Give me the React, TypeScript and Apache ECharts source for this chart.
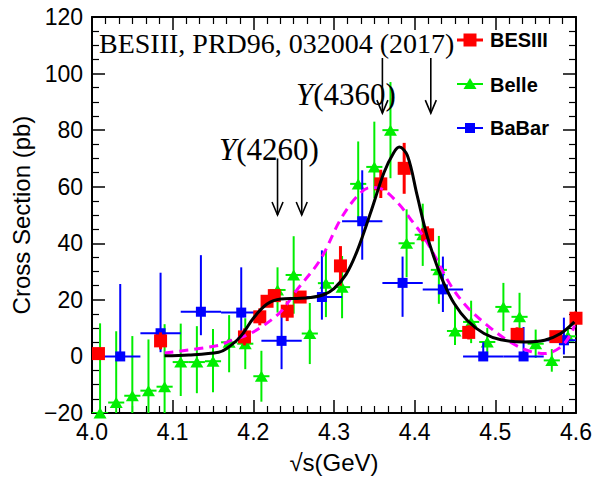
import React, { useEffect, useRef } from "react";
import * as echarts from "echarts";

// ---- BESIII (red squares, vertical errors)
const besX = [4.008, 4.085, 4.189, 4.208, 4.217, 4.226, 4.242, 4.258, 4.308, 4.358, 4.387, 4.416, 4.467, 4.527, 4.575, 4.600];
const besY = [1.0, 5.5, 6.9, 14.0, 19.5, 21.5, 16.0, 21.0, 32.0, 61.0, 66.5, 43.0, 8.5, 7.8, 7.0, 13.5];
const besErr = [2, 3, 3, 3, 2, 1.5, 3.5, 1.5, 7, 5, 9, 3, 2.5, 2.5, 2, 2.5];

// ---- Belle (green triangles)
const belleX = [4.01, 4.03, 4.05, 4.07, 4.09, 4.11, 4.13, 4.15, 4.17, 4.19, 4.21, 4.23, 4.25, 4.27, 4.29, 4.31, 4.33, 4.35, 4.37, 4.39, 4.41, 4.43, 4.45, 4.47, 4.49, 4.51, 4.53, 4.55, 4.57, 4.59];
const belleY = [-20, -16.3, -13.9, -12.1, -10.7, -2, -2, -1.7, 5, 4.5, -7, 23.5, 28.8, 8.1, 25.9, 24.5, 61, 67, 80, 40, 43, 30.6, 9, 12.2, 5.1, 17.5, 14, 4.5, -1.4, 7.1];
const belleUp = [31.7, 25.2, 21.1, 18.1, 22.1, 13.6, 12.7, 11.4, 9.6, 9, 9, 8, 13.7, 10.8, 12, 11, 15, 16, 17, 12, 11, 12, 9, 7.5, 5, 8.5, 8.5, 5, 4, 3];
const belleDown = [10, 10, 10, 10, 10, 12, 11, 11, 10.6, 9, 9, 8, 13.7, 10.8, 12, 11, 13, 11, 17, 12, 11, 12, 5, 7.5, 5, 8.5, 8.5, 5, 4, 3];
const belleHalfW = 0.01;

// ---- BaBar (blue squares)
const babarX = [4.035, 4.085, 4.135, 4.185, 4.235, 4.285, 4.335, 4.385, 4.435, 4.485, 4.535, 4.585];
const babarY = [0, 8.2, 15.8, 15.5, 5.5, 21, 47.8, 26, 23.7, 0, 0, 5.7];
const babarUp = [25.6, 21.4, 20, 16, 9.5, 16.5, 18, 9.3, 11.6, 5, 10.4, 8];
const babarDown = [0, 6.7, 8.3, 10, 10, 8, 13.6, 12, 8, 0, 0, 5];
const babarHalfW = 0.025;

// ---- fit curves
const fitSolidX = [4.09, 4.12, 4.157, 4.167, 4.184, 4.2, 4.217, 4.234, 4.254, 4.271, 4.287, 4.3, 4.315, 4.329, 4.345, 4.362, 4.374, 4.381, 4.391, 4.403, 4.414, 4.424, 4.436, 4.449, 4.465, 4.486, 4.507, 4.536, 4.561, 4.581, 4.598];
const fitSolidY = [0.2, 0.5, 1.5, 2.8, 7, 13.5, 18.5, 20.3, 20.5, 20.8, 21.8, 24, 29, 37.5, 50.5, 65, 72, 74, 71, 57, 44, 35, 26, 18.7, 12.8, 8.1, 5.9, 5.1, 5.7, 8.1, 12.2];
const fitDashX = [4.09, 4.157, 4.171, 4.192, 4.213, 4.234, 4.254, 4.283, 4.308, 4.329, 4.345, 4.358, 4.379, 4.399, 4.407, 4.416, 4.424, 4.445, 4.465, 4.49, 4.515, 4.54, 4.561, 4.581, 4.594, 4.598];
const fitDashY = [1.2, 3.9, 5.5, 7.5, 11, 15.8, 23.5, 34.2, 48.4, 56.7, 59.7, 59.3, 54.3, 47, 44, 40, 36, 25, 17.5, 11, 5.7, 2.1, 1.0, 3.3, 8.1, 11];

// ---- arrows (resonance markers)
const arrowX = [4.23, 4.26, 4.36, 4.42];
const arrowFrom = [70, 70, 105.5, 105.5];
const arrowTo = [50, 50, 86, 86];

const xTicks = { min: 4.0, max: 4.6, interval: 0.1 };
const yTicks = { min: -20, max: 120, interval: 20 };

const RED = "#ff0000";
const GREEN = "#00ee00";
const BLUE = "#0000ff";
const MAGENTA = "#ff00ff";

function errorBars(color: string, width: number) {
  return (_p: any, api: any) => {
    const x = api.value(0), y = api.value(1), lo = api.value(2), hi = api.value(3), xl = api.value(4), xh = api.value(5);
    const c = api.coord([x, y]);
    const t = api.coord([x, hi]);
    const b = api.coord([x, lo]);
    const children: any[] = [
      { type: "line", shape: { x1: c[0], y1: t[1], x2: c[0], y2: b[1] }, style: { stroke: color, lineWidth: width } },
    ];
    if (xl !== xh) {
      const l = api.coord([xl, y]);
      const r = api.coord([xh, y]);
      children.push({ type: "line", shape: { x1: l[0], y1: c[1], x2: r[0], y2: c[1] }, style: { stroke: color, lineWidth: width } });
    }
    return { type: "group", children };
  };
}

function arrowItem(_p: any, api: any) {
  const x = api.value(0);
  const a = api.coord([x, api.value(1)]);
  const b = api.coord([x, api.value(2)]);
  return {
    type: "group",
    children: [
      { type: "line", shape: { x1: a[0], y1: a[1], x2: b[0], y2: b[1] }, style: { stroke: "#000", lineWidth: 1.6 } },
      { type: "polyline", shape: { points: [[b[0] - 5.5, b[1] - 13], [b[0], b[1]], [b[0] + 5.5, b[1] - 13]] }, style: { stroke: "#000", lineWidth: 1.6, fill: "none" } },
    ],
  };
}

const SANS = '"Liberation Sans", Arial, sans-serif';
const SERIF = '"Liberation Serif", "Times New Roman", serif';

function buildOption() {
  const besData = besX.map((x, i) => [x, besY[i], besY[i] - besErr[i], besY[i] + besErr[i], x, x]);
  const belleData = belleX.map((x, i) => [x, belleY[i], belleY[i] - belleDown[i], belleY[i] + belleUp[i], x - belleHalfW, x + belleHalfW]);
  const babarData = babarX.map((x, i) => [x, babarY[i], babarY[i] - babarDown[i], babarY[i] + babarUp[i], x - babarHalfW, x + babarHalfW]);
  const arrowData = arrowX.map((x, i) => [x, arrowFrom[i], arrowTo[i]]);

  const tickCommon = { inside: true, length: 13, lineStyle: { color: "#000", width: 1.5 } };
  const axisLineCommon = { show: true, onZero: false, lineStyle: { color: "#000", width: 2 } };

  return {
    animation: false,
    backgroundColor: "#fff",
    grid: { left: 92, right: 16, top: 17, bottom: 66, containLabel: false, outerBoundsMode: "none" },
    xAxis: [
      {
        type: "value", ...xTicks, position: "bottom",
        axisLine: axisLineCommon,
        axisTick: tickCommon,
        minorTick: { show: true, splitNumber: 6, length: 7, lineStyle: { color: "#000", width: 1.2 } },
        splitLine: { show: false },
        axisLabel: { formatter: (v: number) => v.toFixed(1), fontSize: 23, color: "#000", fontFamily: SANS, margin: 7, showMinLabel: true, showMaxLabel: true },
        name: "√s(GeV)", nameLocation: "middle", nameGap: 37,
        nameTextStyle: { fontSize: 24, color: "#000", fontFamily: SANS },
      },
      {
        type: "value", ...xTicks, position: "top",
        axisLine: axisLineCommon,
        axisTick: tickCommon,
        minorTick: { show: true, splitNumber: 6, length: 7, lineStyle: { color: "#000", width: 1.2 } },
        splitLine: { show: false },
        axisLabel: { show: false },
      },
    ],
    yAxis: [
      {
        type: "value", ...yTicks, position: "left",
        axisLine: axisLineCommon,
        axisTick: tickCommon,
        minorTick: { show: true, splitNumber: 4, length: 7, lineStyle: { color: "#000", width: 1.2 } },
        splitLine: { show: false },
        axisLabel: { fontSize: 23, color: "#000", fontFamily: SANS, margin: 9, formatter: (v: number) => (v < 0 ? "\u2212" + Math.abs(v) : String(v)) },
        name: "Cross Section (pb)", nameLocation: "middle", nameGap: 58, nameRotate: 90,
        nameTextStyle: { fontSize: 24, color: "#000", fontFamily: SANS },
      },
      {
        type: "value", ...yTicks, position: "right",
        axisLine: axisLineCommon,
        axisTick: tickCommon,
        minorTick: { show: true, splitNumber: 4, length: 7, lineStyle: { color: "#000", width: 1.2 } },
        splitLine: { show: false },
        axisLabel: { show: false },
      },
    ],
    series: [
      { type: "custom", name: "Belle err", renderItem: errorBars(GREEN, 2), data: belleData, clip: true, z: 2 },
      { type: "scatter", name: "Belle", data: belleX.map((x, i) => [x, belleY[i]]), symbol: "triangle", symbolSize: [13, 11], itemStyle: { color: GREEN, opacity: 1 }, clip: true, z: 3 },
      { type: "custom", name: "BaBar err", renderItem: errorBars(BLUE, 2), data: babarData, clip: true, z: 4 },
      { type: "scatter", name: "BaBar", data: babarX.map((x, i) => [x, babarY[i]]), symbol: "rect", symbolSize: 10, itemStyle: { color: BLUE, opacity: 1 }, clip: true, z: 5 },
      { type: "custom", name: "BESIII err", renderItem: errorBars(RED, 3), data: besData, clip: true, z: 6 },
      { type: "scatter", name: "BESIII", data: besX.map((x, i) => [x, besY[i]]), symbol: "rect", symbolSize: 13, itemStyle: { color: RED, opacity: 1 }, clip: true, z: 7 },
      { type: "line", name: "fit2", data: fitDashX.map((x, i) => [x, fitDashY[i]]), smooth: 0.35, showSymbol: false, symbol: "none", lineStyle: { color: MAGENTA, width: 3, type: [9, 6] }, z: 8 },
      { type: "line", name: "fit1", data: fitSolidX.map((x, i) => [x, fitSolidY[i]]), smooth: 0.35, showSymbol: false, symbol: "none", lineStyle: { color: "#000", width: 3 }, z: 9 },
      { type: "custom", name: "arrows", renderItem: arrowItem, data: arrowData, clip: false, z: 10 },
    ],
    graphic: [
      { type: "text", x: 99, y: 43, z: 20, style: { text: "BESIII, PRD96, 032004 (2017)", fontSize: 28, fontFamily: SERIF, fill: "#000", verticalAlign: "middle", textVerticalAlign: "middle" } },
      { type: "text", x: 296, y: 94, z: 20, style: { text: "{i|Y}(4360)", fontSize: 31, fontFamily: SERIF, fill: "#000", verticalAlign: "middle", textVerticalAlign: "middle", rich: { i: { fontStyle: "italic", fontSize: 31, fontFamily: SERIF, fill: "#000" } } } },
      { type: "text", x: 219, y: 149, z: 20, style: { text: "{i|Y}(4260)", fontSize: 31, fontFamily: SERIF, fill: "#000", verticalAlign: "middle", textVerticalAlign: "middle", rich: { i: { fontStyle: "italic", fontSize: 31, fontFamily: SERIF, fill: "#000" } } } },
      // legend
      { type: "line", shape: { x1: 457, y1: 40, x2: 483, y2: 40 }, style: { stroke: RED, lineWidth: 3 }, z: 20 },
      { type: "rect", shape: { x: 463.5, y: 33.5, width: 13, height: 13 }, style: { fill: RED }, z: 20 },
      { type: "text", x: 490, y: 40, z: 20, style: { text: "BESIII", fontSize: 20, fontWeight: "bold", fontFamily: SANS, fill: "#000", verticalAlign: "middle", textVerticalAlign: "middle" } },
      { type: "line", shape: { x1: 457, y1: 84, x2: 483, y2: 84 }, style: { stroke: GREEN, lineWidth: 2 }, z: 20 },
      { type: "polygon", shape: { points: [[470, 78], [463.5, 89], [476.5, 89]] }, style: { fill: GREEN }, z: 20 },
      { type: "text", x: 490, y: 85, z: 20, style: { text: "Belle", fontSize: 20, fontWeight: "bold", fontFamily: SANS, fill: "#000", verticalAlign: "middle", textVerticalAlign: "middle" } },
      { type: "line", shape: { x1: 457, y1: 128, x2: 483, y2: 128 }, style: { stroke: BLUE, lineWidth: 2 }, z: 20 },
      { type: "rect", shape: { x: 465, y: 123, width: 10, height: 10 }, style: { fill: BLUE }, z: 20 },
      { type: "text", x: 490, y: 128, z: 20, style: { text: "BaBar", fontSize: 20, fontWeight: "bold", fontFamily: SANS, fill: "#000", verticalAlign: "middle", textVerticalAlign: "middle" } },
    ],
  };
}

export default function App() {
  const ref = useRef<HTMLDivElement>(null);
  useEffect(() => {
    if (!ref.current) return;
    const chart = echarts.init(ref.current, null, { renderer: "svg" });
    chart.setOption(buildOption() as any);
    return () => chart.dispose();
  }, []);
  return <div ref={ref} style={{ position: "absolute", left: 0, top: 0, width: 592, height: 479, background: "#fff" }} />;
}
